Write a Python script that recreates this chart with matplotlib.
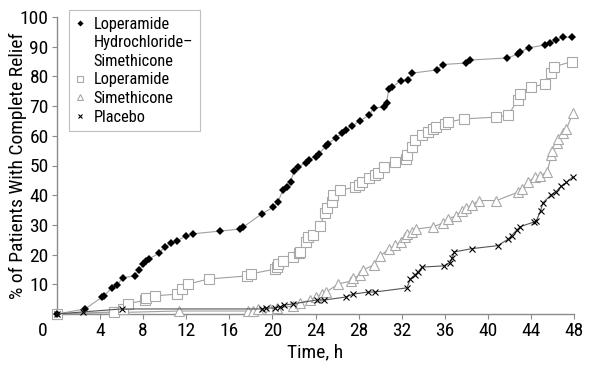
import matplotlib
matplotlib.use("Agg")
import matplotlib.pyplot as plt
from matplotlib import font_manager
from matplotlib.lines import Line2D

names = {f.name for f in font_manager.fontManager.ttflist}
cands = ['Liberation Sans Narrow', 'Roboto Condensed', 'Open Sans Condensed', 'Noto Sans Condensed',
         'DejaVu Sans Condensed', 'Liberation Sans']
chosen = next((c for c in cands if c in names), 'DejaVu Sans')
plt.rcParams['font.family'] = [chosen, 'DejaVu Sans']
narrow = chosen != 'Liberation Sans'

# ---- data ----
lhs_x = [0, 2.6, 4.2, 4.4, 5.1, 5.6, 6.1, 7.2, 7.6, 8.0, 8.3, 8.5, 9.5, 10.0, 10.6, 11.1, 12.0, 12.6,
         15.1, 17.0, 17.3, 19.0, 20.1, 20.5, 21.0, 21.4, 21.7, 22.0, 22.4, 23.1, 23.4, 24.0, 24.3, 25.0,
         25.2, 25.9, 26.5, 26.8, 27.4, 28.1, 29.0, 29.4, 30.4, 30.6, 30.8, 31.1, 31.9, 32.6, 33.0, 35.3,
         35.8, 38.0, 38.3, 41.8, 42.8, 43.0, 43.8, 45.3, 45.8, 46.3, 47.0, 47.8]
lhs_y = [0, 1.7, 5.7, 6.2, 8.9, 9.8, 12.2, 12.8, 14.7, 16.8, 17.8, 18.5, 20.5, 22.6, 23.8, 24.6, 26.3, 27.0,
         27.9, 28.6, 29.3, 33.7, 36.0, 37.7, 41.8, 42.8, 44.6, 48.0, 49.5, 51.0, 52.0, 53.0, 54.0, 56.6,
         57.4, 59.4, 60.9, 62.0, 63.3, 65.0, 67.0, 69.4, 69.7, 71.0, 75.8, 76.4, 78.5, 78.8, 81.1, 82.2,
         84.0, 84.5, 85.5, 86.2, 87.5, 88.2, 89.6, 90.6, 91.2, 92.3, 93.2, 93.2]

lop_x = [0, 5.3, 6.1, 6.6, 8.2, 8.3, 9.1, 11.1, 11.6, 12.2, 14.1, 17.6, 18.0, 20.2, 20.4, 20.5, 21.0,
         21.9, 22.5, 22.6, 23.1, 23.3, 23.8, 24.4, 24.9, 25.1, 25.5, 25.6, 26.3, 27.7, 28.0, 28.3, 29.0,
         29.5, 29.8, 30.4, 31.4, 32.4, 32.5, 33.0, 33.2, 33.9, 34.4, 34.9, 35.2, 36.0, 36.3, 37.8, 40.8,
         41.9, 42.8, 43.0, 44.0, 45.3, 45.9, 46.1, 47.8]
lop_y = [0, 0.7, 1.7, 3.4, 4.7, 5.4, 6.1, 6.7, 8.4, 10.1, 11.8, 12.8, 13.5, 15.1, 15.8, 16.8, 17.8,
         19.2, 20.5, 21.0, 24.4, 25.9, 26.6, 29.6, 34.0, 35.7, 37.7, 40.1, 41.6, 42.8, 43.4, 44.4, 45.8,
         46.8, 47.5, 49.5, 51.2, 52.2, 53.5, 56.2, 58.6, 60.3, 61.3, 62.3, 63.0, 64.0, 64.6, 65.7, 66.3,
         67.0, 72.2, 74.1, 76.4, 77.4, 81.3, 83.2, 85.0]

sim_x = [0, 11.3, 17.7, 18.2, 18.7, 19.8, 20.4, 21.9, 22.6, 23.5, 24.0, 24.6, 25.0, 26.1, 27.3, 27.5,
         28.1, 28.4, 29.4, 30.0, 30.8, 31.4, 31.9, 32.3, 32.5, 33.0, 33.3, 34.9, 35.8, 36.3, 37.0, 37.6,
         38.0, 38.5, 39.2, 40.8, 42.8, 43.2, 43.7, 44.4, 44.8, 45.5, 45.9, 46.0, 46.4, 46.5, 47.0, 47.3,
         47.9]
sim_y = [0, 1.0, 1.0, 1.0, 1.7, 1.7, 2.0, 2.7, 3.7, 4.7, 5.7, 6.7, 7.4, 10.1, 11.1, 12.1,
         13.1, 14.8, 16.5, 19.5, 21.9, 23.2, 24.2, 25.9, 26.9, 27.6, 28.6, 29.3, 30.6, 32.0, 33.0, 34.7,
         35.7, 36.7, 38.2, 38.2, 41.0, 42.0, 44.5, 46.0, 46.5, 47.8, 53.5, 54.9, 57.6, 58.9, 60.9, 62.3,
         67.7]

pla_x = [0, 2.4, 6.0, 19.0, 19.4, 20.2, 20.7, 21.1, 21.9, 24.1, 24.8, 26.8, 27.5, 28.9, 29.5, 32.5,
         32.8, 33.2, 33.5, 33.9, 35.9, 36.5, 36.7, 36.9, 38.5, 40.9, 41.9, 42.2, 42.7, 43.0, 44.3, 44.5,
         44.9, 45.1, 45.9, 46.3, 46.8, 47.3, 47.9]
pla_y = [0, 0.7, 1.7, 1.7, 2.0, 2.0, 2.4, 3.0, 3.4, 4.7, 4.7, 5.7, 6.7, 7.4, 7.4, 8.8,
         11.8, 13.1, 14.1, 15.8, 16.2, 17.3, 19.0, 20.9, 22.0, 23.0, 25.2, 26.4, 28.3, 29.4, 31.0, 31.3,
         34.8, 37.4, 40.2, 41.1, 43.0, 44.3, 46.2]

label_lines = [['Loperamide', 'Hydrochloride\u2013', 'Simethicone'], ['Loperamide'], ['Simethicone'], ['Placebo']]
xticks = [4, 8, 12, 16, 20, 24, 28, 32, 36, 40, 44, 48]
yticks = [10, 20, 30, 40, 50, 60, 70, 80, 90, 100]

# ---- figure ----
W, H = 590, 373
fig = plt.figure(figsize=(W / 100, H / 100), dpi=100)
ax = fig.add_axes([57 / W, 1 - 314 / H, (574 - 57) / W, (314 - 17) / H])

axis_col = '#8a8a8a'
line_col = '#a0a0a0'
sq_col = '#a8a8a8'
fs_tick = 14 if narrow else 10.5
fs_lab = 14 if narrow else 10
fs_leg = 11.8 if narrow else 10

styles = [
    dict(color=line_col, lw=0.8, marker='D', ms=4.4, mfc='black', mec='black', mew=0, zorder=5),
    dict(color=line_col, lw=0.8, marker='s', ms=6.5, mfc='white', mec=sq_col, mew=0.8, zorder=4),
    dict(color=line_col, lw=0.8, marker='^', ms=7, mfc='white', mec=sq_col, mew=0.8, zorder=3),
    dict(color='#555555', lw=0.8, marker='x', ms=5, mec='black', mew=0.8, zorder=6),
]
series = [(lhs_x, lhs_y), (lop_x, lop_y), (sim_x, sim_y), (pla_x, pla_y)]
for (xs, ys), st in zip(series, styles):
    ax.plot(xs, ys, clip_on=False, **st)

ax.set_xlim(0, 48)
ax.set_ylim(0, 100)
ax.set_xticks(xticks)
ax.set_yticks([0] + yticks)
ax.set_yticklabels([''] + [str(v) for v in yticks])
for s in ['top', 'right']:
    ax.spines[s].set_visible(False)
for s in ['left', 'bottom']:
    ax.spines[s].set_color(axis_col)
    ax.spines[s].set_linewidth(1.0)
ax.tick_params(axis='both', direction='out', length=3.5, width=0.8, color=axis_col,
               labelsize=fs_tick, pad=2.5)
ax.annotate('0', xy=(0, 0), xycoords='data', xytext=(-10, -5.5), textcoords='offset points',
            ha='center', va='top', fontsize=fs_tick)

ax.set_xlabel('Time, h', fontsize=fs_lab)
ax.xaxis.set_label_coords(0.5, -(352 - 314) / (314 - 17), transform=ax.transAxes)
ax.xaxis.label.set_va('center')
ax.set_ylabel('% of Patients With Complete Relief', fontsize=fs_lab)
ax.yaxis.set_label_coords(-(57 - 18) / (574 - 57), 0.5, transform=ax.transAxes)
ax.yaxis.label.set_va('center')

# legend: first entry spans three lines, marker on first line
handles, labels = [], []
for lines, st in zip(label_lines, styles):
    s2 = {k: v for k, v in st.items() if k not in ('zorder', 'lw', 'color')}
    s2['ms'] = st['ms'] * 0.7
    handles.append(Line2D([], [], linestyle='none', **s2))
    labels.append(lines[0])
    for extra in lines[1:]:
        handles.append(Line2D([], [], linestyle='none', marker=None))
        labels.append(extra)

leg = ax.legend(handles, labels, loc='upper left', bbox_to_anchor=(69 / W, 1 - 10 / H),
                bbox_transform=fig.transFigure, borderaxespad=0, fontsize=fs_leg, frameon=True,
                fancybox=False, handlelength=0.6, handletextpad=0.5, borderpad=0.4,
                labelspacing=0.22)
leg.get_frame().set_edgecolor('#b0b0b0')
leg.get_frame().set_linewidth(0.8)

fig.savefig('out.png', dpi=100)
